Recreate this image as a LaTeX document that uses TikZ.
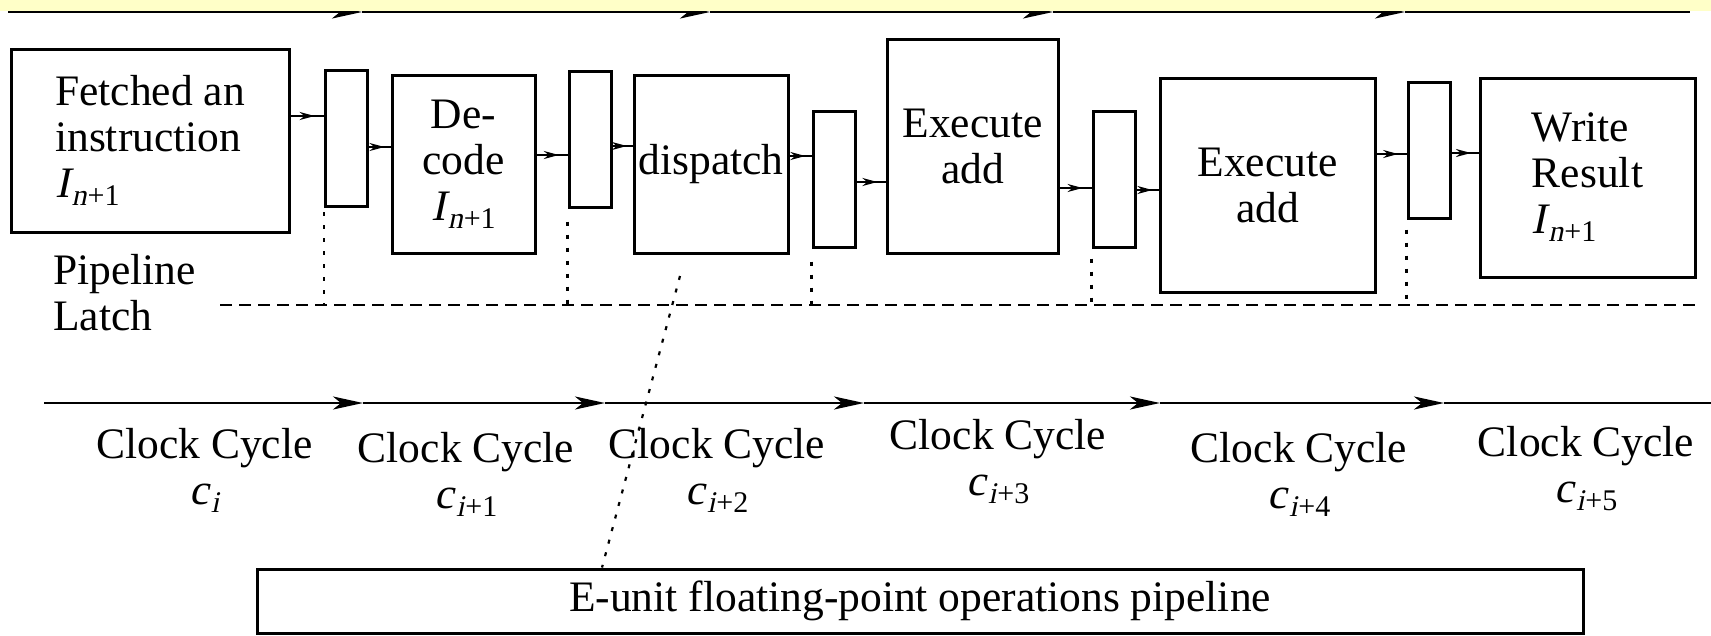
\documentclass[tikz,border=0pt]{standalone}
\usepackage{fontspec}
\setmainfont{Liberation Serif}
\newfontfamily\slantrm{Liberation Serif}[FakeSlant=0.21]
\usepackage{tikz}
\usetikzlibrary{arrows.meta,positioning,calc,decorations.markings}
\definecolor{bandyellow}{HTML}{FFFFC8}

\begin{document}
\begin{tikzpicture}[
  x=1pt, y=-1pt,
  font={\fontsize{43.5}{46}\selectfont},
  stage/.style={draw, line width=3pt, inner sep=0pt, align=center},
  latch/.style={draw, line width=3pt, inner sep=0pt,
                minimum width=42pt, minimum height=136pt},
  feed/.style={line width=2pt, postaction={decorate},
               decoration={markings, mark=at position 0.72 with
                 {\arrow{Stealth[length=15pt,width=8pt]}}}},
  clk/.style={line width=2.6pt, -{Stealth[length=30pt,width=13pt,inset=8pt]}},
  guide/.style={line width=2.2pt, dash pattern=on 12pt off 7pt},
  dots/.style={line width=2.2pt, dash pattern=on 4pt off 9pt},
  lbl/.style={inner sep=0pt, align=center},
]

% slanted letters and lowered subscripts, n+1 / i+k
\newcommand{\itl}[1]{{\slantrm #1}}
\newcommand{\lowsub}[1]{\kern2pt\raisebox{-8pt}{\fontsize{30}{30}\selectfont #1}}
\newcommand{\insn}{\itl{I}\lowsub{\itl{n}\kern1pt+1}}
\newcommand{\cyc}[1]{\itl{c}\lowsub{#1}}
\newcommand{\stagefeed}[3]{\draw[feed] (#1.east |- 0,#3) -- (#2.west |- 0,#3);}

\fill[white] (0,0) rectangle (1711,635);
\useasboundingbox (0,0) rectangle (1711,635);

% ---- clock line of the previous row (cut by the band) ----
\foreach \n/\x in {0/8,1/362,2/710,3/1053,4/1405,5/1690}
  \coordinate (tp\n) at (\x,12);
\foreach \a/\b in {0/1,1/2,2/3,3/4}
  \draw[clk] (tp\a) -- (tp\b);
\draw[clk,-] (tp4) -- (tp5);
\fill[bandyellow] (0,0) rectangle (1711,10.5);

% ---- stages and latches ----
\node[stage, align=left, minimum width=278pt, minimum height=183pt] (fetch) at (150,140.5)
  {Fetched an\\instruction\\\insn};
\node[latch] (latA) at (346.5,138.5) {};
\node[stage, minimum width=143pt, minimum height=178pt] (dec) at (463.5,164) {De-\\code\\\insn};
\node[latch] (latB) at (590,139) {};
\node[stage, minimum width=154pt, minimum height=178pt] (disp) at (711,164) {dispatch};
\node[latch] (latC) at (834,179) {};
\node[stage, minimum width=171pt, minimum height=214pt] (exA) at (972.5,146) {Execute\\add};
\node[latch] (latD) at (1114,179) {};
\node[stage, minimum width=215pt, minimum height=214pt] (exB) at (1267.5,185) {Execute\\add};
\node[latch] (latE) at (1429,150) {};
\node[stage, align=left, minimum width=215pt, minimum height=199pt] (wr) at (1587.5,177.5)
  {Write\\Result\\\insn};

% ---- stage -> latch -> stage ----
\stagefeed{fetch}{latA}{116}
\stagefeed{latA}{dec}{147}
\stagefeed{dec}{latB}{155}
\stagefeed{latB}{disp}{146}
\stagefeed{disp}{latC}{156}
\stagefeed{latC}{exA}{182}
\stagefeed{exA}{latD}{188}
\stagefeed{latD}{exB}{190}
\stagefeed{exB}{latE}{154}
\stagefeed{latE}{wr}{153}

% ---- pipeline latch level ----
\node[lbl, align=left, anchor=west] (pl) at (53,293) {Pipeline\\Latch};
\coordinate (gl) at (220,305);
\coordinate (gr) at (1697,305);
\draw[guide] (gl) -- (gr);
\foreach \l/\t in {latA/4,latB/13,latC/13,latD/10,latE/10}
  \draw[dots] ([yshift=-\t pt]\l.south west) -- (\l.south west |- gl);

% ---- clock ----
\foreach \n/\x in {0/44,1/363,2/605,3/864,4/1160,5/1444,6/1711}
  \coordinate (ck\n) at (\x,403);
\foreach \a/\b in {0/1,1/2,2/3,3/4,4/5}
  \draw[clk] (ck\a) -- (ck\b);
\draw[clk,-] (ck5) -- (ck6);

\node[lbl] (cc0) at (204.5,470) {Clock Cycle\\\cyc{\itl{i}}};
\node[lbl] (cc1) at (466,474) {Clock Cycle\\\cyc{\itl{i}\kern1pt+1}};
\node[lbl] (cc2) at (717,470) {Clock Cycle\\\cyc{\itl{i}\kern1pt+2}};
\node[lbl] (cc3) at (998,462) {Clock Cycle\\\cyc{\itl{i}\kern1pt+3}};
\node[lbl] (cc4) at (1299,474) {Clock Cycle\\\cyc{\itl{i}\kern1pt+4}};
\node[lbl] (cc5) at (1586,469) {Clock Cycle\\\cyc{\itl{i}\kern1pt+5}};

% ---- E-unit ----
\node[stage, minimum width=1326pt, minimum height=64pt] (eunit) at (920,601)
  {E-unit floating-point operations pipeline};
\coordinate (tail) at (680,276);
\draw[dots] (tail) -- (eunit.north west -| 602,0);

\end{tikzpicture}
\end{document}
